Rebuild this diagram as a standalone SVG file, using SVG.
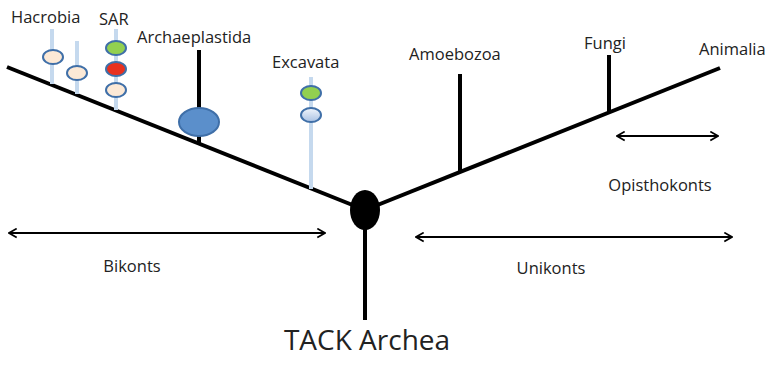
<svg xmlns="http://www.w3.org/2000/svg" width="776" height="368" viewBox="0 0 776 368">
<style>
.t{font-family:"Open Sans","Liberation Sans",sans-serif;fill:#222;font-size:16.5px}
.br{stroke:#000;stroke-width:4;fill:none;stroke-linecap:butt}
.lb{stroke:#c5d9ee;stroke-width:4;fill:none}
.ar{stroke:#000;stroke-width:2;fill:none;marker-start:url(#ah);marker-end:url(#ah)}
.ov{stroke:#3f6fa8;stroke-width:2}
</style>
<defs>
<marker id="ah" viewBox="0 0 10 10" refX="9" refY="5" markerWidth="5.5" markerHeight="5.5" orient="auto-start-reverse" markerUnits="strokeWidth">
<polyline points="2,1 9,5 2,9" fill="none" stroke="#000" stroke-width="1.6"/>
</marker>
<linearGradient id="g1" x1="0" y1="0" x2="0" y2="1">
<stop offset="0" stop-color="#f2f6fc"/><stop offset="1" stop-color="#a9c1e3"/>
</linearGradient>
</defs>
<g id="connectors">
<line class="br" x1="7" y1="67" x2="365" y2="210"/>
<line class="br" x1="365" y1="210" x2="720" y2="68"/>
<line class="br" x1="365" y1="210" x2="365" y2="320"/>
<line class="lb" x1="52" y1="29" x2="52" y2="84"/>
<line class="lb" x1="77" y1="41" x2="77" y2="94"/>
<line class="lb" x1="116" y1="29" x2="116" y2="110"/>
<line class="br" x1="199" y1="50" x2="199" y2="144"/>
<line class="lb" x1="311" y1="77" x2="311" y2="189"/>
<line class="br" x1="460" y1="74" x2="460" y2="172"/>
<line class="br" x1="609" y1="55" x2="609" y2="112"/>
<line class="ar" x1="9" y1="233" x2="325" y2="233"/>
<line class="ar" x1="416" y1="237" x2="732" y2="237"/>
<line class="ar" x1="617" y1="136" x2="718" y2="136"/>
</g>
<g id="root"><ellipse cx="365" cy="210" rx="15" ry="20" fill="#000"/><text class="t" x="367" y="350" text-anchor="middle" style="font-size:28px">TACK Archea</text></g>
<g id="hacrobia">
<ellipse class="ov" cx="53" cy="57" rx="10" ry="7" fill="#fce9d6"/>
<ellipse class="ov" cx="77" cy="73" rx="10" ry="7" fill="#fce9d6"/>
<text class="t" x="11" y="23">Hacrobia</text></g>
<g id="sar">
<ellipse class="ov" cx="116" cy="48" rx="10" ry="7" fill="#92d050"/>
<ellipse class="ov" cx="116" cy="69" rx="10" ry="7" fill="#e8311f"/>
<ellipse class="ov" cx="116" cy="90" rx="10" ry="7" fill="#fce9d6"/>
<text class="t" x="99" y="25">SAR</text></g>
<g id="archaeplastida">
<ellipse class="ov" cx="199" cy="122" rx="20" ry="14" fill="#5b8fcb"/>
<text class="t" x="137" y="43">Archaeplastida</text></g>
<g id="excavata">
<ellipse class="ov" cx="311" cy="93" rx="10" ry="7" fill="#92d050"/>
<ellipse class="ov" cx="311" cy="115" rx="10" ry="7" fill="url(#g1)"/>
<text class="t" x="272" y="68">Excavata</text></g>
<g id="amoebozoa"><text class="t" x="409" y="60">Amoebozoa</text></g>
<g id="fungi"><text class="t" x="584" y="49">Fungi</text></g>
<g id="animalia"><text class="t" x="699" y="55">Animalia</text></g>
<g id="labels">
<text class="t" x="132" y="272" text-anchor="middle">Bikonts</text>
<text class="t" x="551" y="274" text-anchor="middle">Unikonts</text>
<text class="t" x="660" y="191" text-anchor="middle">Opisthokonts</text>
</g>
</svg>
